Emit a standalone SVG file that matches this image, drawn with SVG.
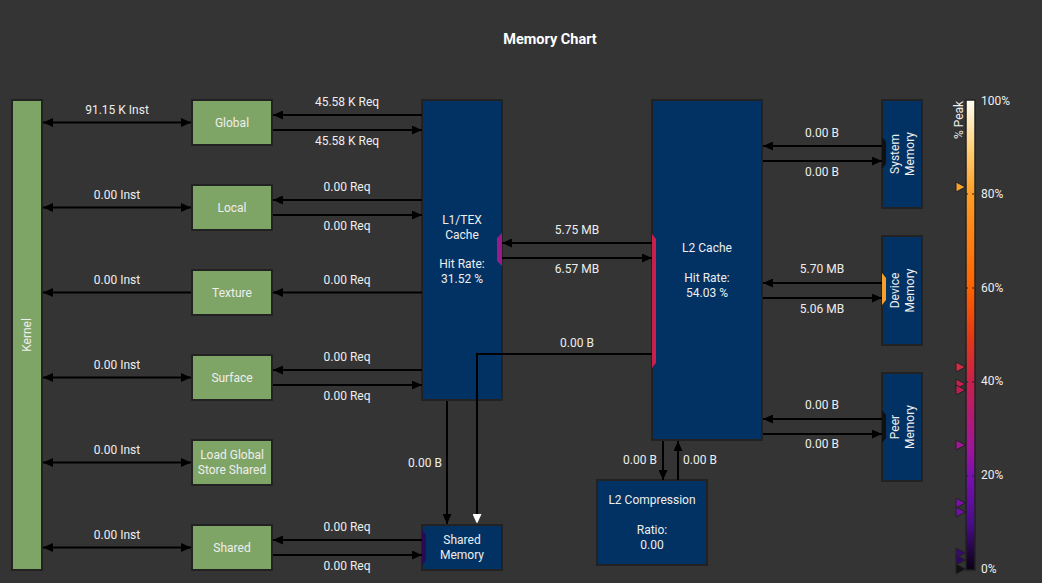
<svg xmlns="http://www.w3.org/2000/svg" width="1042" height="583" viewBox="0 0 1042 583">
<defs>
<style>
.bg{fill:#343434}
.t{font-family:Roboto,"Liberation Sans",sans-serif;font-size:12px;fill:#eeeeee;text-anchor:middle}
.title{font-family:Roboto,"Liberation Sans",sans-serif;font-size:14.5px;font-weight:bold;fill:#ffffff;text-anchor:middle}
.g{fill:#7fa566;stroke:#222;stroke-width:2}
.n{fill:#013263;stroke:#222;stroke-width:2}
.c{fill:none;stroke:#000;stroke-width:2}
.tri{stroke:#222;stroke-width:1}
</style>
<marker id="ah" viewBox="0 0 10 9" refX="10" refY="4.5" markerWidth="10" markerHeight="9" markerUnits="userSpaceOnUse" orient="auto-start-reverse"><path d="M0,0 L10,4.5 L0,9 z" fill="#000"/></marker>
<marker id="aw" viewBox="0 0 10 9" refX="10" refY="4.5" markerWidth="10" markerHeight="9" markerUnits="userSpaceOnUse" orient="auto"><path d="M0,0 L10,4.5 L0,9 z" fill="#fff"/></marker>
<linearGradient id="cb" x1="0" y1="0" x2="0" y2="1">
<stop offset="0" stop-color="#fffdf5"/>
<stop offset="0.1" stop-color="#ffd27a"/>
<stop offset="0.2" stop-color="#ff9d25"/>
<stop offset="0.4" stop-color="#ff6200"/>
<stop offset="0.5" stop-color="#e43a14"/>
<stop offset="0.6" stop-color="#c8204c"/>
<stop offset="0.74" stop-color="#a0149a"/>
<stop offset="0.8" stop-color="#7a10ad"/>
<stop offset="0.9" stop-color="#4a0c8a"/>
<stop offset="1" stop-color="#0a0012"/>
</linearGradient>
</defs>
<rect class="bg" x="0" y="0" width="1042" height="583"/>
<text class="title" x="550" y="44">Memory Chart</text>

<g id="kernel"><rect class="g" x="12" y="100" width="30" height="470"/><text class="t" transform="translate(27,335) rotate(-90)" y="4">Kernel</text></g>
<g id="global"><rect class="g" x="192" y="100" width="80" height="45"/><text class="t" x="232" y="127">Global</text></g>
<g id="local"><rect class="g" x="192" y="185" width="80" height="45"/><text class="t" x="232" y="212">Local</text></g>
<g id="texture"><rect class="g" x="192" y="270" width="80" height="45"/><text class="t" x="232" y="297">Texture</text></g>
<g id="surface"><rect class="g" x="192" y="355" width="80" height="45"/><text class="t" x="232" y="382">Surface</text></g>
<g id="loadglobal"><rect class="g" x="192" y="440" width="80" height="45"/><text class="t" x="232" y="459">Load Global</text><text class="t" x="232" y="474">Store Shared</text></g>
<g id="shared"><rect class="g" x="192" y="525" width="80" height="45"/><text class="t" x="232" y="552">Shared</text></g>

<g id="l1tex"><rect class="n" x="422" y="100" width="80" height="300"/><path d="M502,233 L497,238 L497,261 L502,266 Z" fill="#9a1a8c"/>
<text class="t" x="462" y="224">L1/TEX</text><text class="t" x="462" y="238.5">Cache</text><text class="t" x="462" y="268">Hit Rate:</text><text class="t" x="462" y="283">31.52 %</text></g>
<g id="sharedmem"><rect class="n" x="422" y="525" width="80" height="45"/><path d="M422,530 L426,535 L426,560 L422,565 Z" fill="#2a0a55"/><text class="t" x="462" y="544">Shared</text><text class="t" x="462" y="559">Memory</text></g>
<g id="l2cache"><rect class="n" x="652" y="100" width="110" height="340"/><path d="M652,234 L656,239 L656,363 L652,368 Z" fill="#c8204a"/>
<text class="t" x="707" y="252">L2 Cache</text><text class="t" x="707" y="282">Hit Rate:</text><text class="t" x="707" y="297">54.03 %</text></g>
<g id="l2comp"><rect class="n" x="597" y="480" width="110" height="85"/><text class="t" x="652" y="504">L2 Compression</text><text class="t" x="652" y="534">Ratio:</text><text class="t" x="652" y="549">0.00</text></g>
<g id="sysmem"><rect class="n" x="882" y="100" width="40" height="108"/><path d="M882,137 L886,142 L886,164 L882,169 Z" fill="#111"/><text class="t" transform="translate(902,154) rotate(-90)"><tspan x="0" y="-3">System</tspan><tspan x="0" y="12">Memory</tspan></text></g>
<g id="devmem"><rect class="n" x="882" y="236" width="40" height="109"/><path d="M882,273 L886,278 L886,300 L882,305 Z" fill="#f5a02a"/><text class="t" transform="translate(902,290.5) rotate(-90)"><tspan x="0" y="-3">Device</tspan><tspan x="0" y="12">Memory</tspan></text></g>
<g id="peermem"><rect class="n" x="882" y="373" width="40" height="108"/><path d="M882,410 L886,415 L886,438 L882,443 Z" fill="#111"/><text class="t" transform="translate(902,427) rotate(-90)"><tspan x="0" y="-3">Peer</tspan><tspan x="0" y="12">Memory</tspan></text></g>

<g id="connectors">
<path class="c" d="M43,122.5 H191" marker-start="url(#ah)" marker-end="url(#ah)"/>
<path class="c" d="M43,207.5 H191" marker-start="url(#ah)" marker-end="url(#ah)"/>
<path class="c" d="M43,292.5 H191" marker-start="url(#ah)"/>
<path class="c" d="M43,377.5 H191" marker-start="url(#ah)" marker-end="url(#ah)"/>
<path class="c" d="M43,462.5 H191" marker-start="url(#ah)" marker-end="url(#ah)"/>
<path class="c" d="M43,547.5 H191" marker-start="url(#ah)" marker-end="url(#ah)"/>
<path class="c" d="M422,115 H273" marker-end="url(#ah)"/>
<path class="c" d="M273,130 H422" marker-end="url(#ah)"/>
<path class="c" d="M422,200 H273" marker-end="url(#ah)"/>
<path class="c" d="M273,215 H422" marker-end="url(#ah)"/>
<path class="c" d="M422,292.5 H273" marker-end="url(#ah)"/>
<path class="c" d="M422,370 H273" marker-end="url(#ah)"/>
<path class="c" d="M273,385 H422" marker-end="url(#ah)"/>
<path class="c" d="M422,540 H273" marker-end="url(#ah)"/>
<path class="c" d="M273,555 H422" marker-end="url(#ah)"/>
<path class="c" d="M652,243 H502" marker-end="url(#ah)"/>
<path class="c" d="M502,258 H652" marker-end="url(#ah)"/>
<path class="c" d="M652,354 H477 V524" marker-end="url(#aw)"/>
<path class="c" d="M447,401 V524" marker-end="url(#ah)"/>
<path class="c" d="M882,146 H763" marker-end="url(#ah)"/>
<path class="c" d="M763,161 H882" marker-end="url(#ah)"/>
<path class="c" d="M882,283 H763" marker-end="url(#ah)"/>
<path class="c" d="M763,298 H882" marker-end="url(#ah)"/>
<path class="c" d="M882,419 H763" marker-end="url(#ah)"/>
<path class="c" d="M763,434 H882" marker-end="url(#ah)"/>
<path class="c" d="M663,441 V480" marker-end="url(#ah)"/>
<path class="c" d="M678,480 V441" marker-end="url(#ah)"/>
</g>

<g id="labels">
<text class="t" x="117" y="114">91.15 K Inst</text>
<text class="t" x="117" y="199">0.00 Inst</text>
<text class="t" x="117" y="284">0.00 Inst</text>
<text class="t" x="117" y="369">0.00 Inst</text>
<text class="t" x="117" y="454">0.00 Inst</text>
<text class="t" x="117" y="539">0.00 Inst</text>
<text class="t" x="347" y="106">45.58 K Req</text>
<text class="t" x="347" y="145">45.58 K Req</text>
<text class="t" x="347" y="191">0.00 Req</text>
<text class="t" x="347" y="230">0.00 Req</text>
<text class="t" x="347" y="284">0.00 Req</text>
<text class="t" x="347" y="361">0.00 Req</text>
<text class="t" x="347" y="400">0.00 Req</text>
<text class="t" x="347" y="531">0.00 Req</text>
<text class="t" x="347" y="570">0.00 Req</text>
<text class="t" x="577" y="234">5.75 MB</text>
<text class="t" x="577" y="273">6.57 MB</text>
<text class="t" x="577" y="347">0.00 B</text>
<text class="t" x="425" y="467">0.00 B</text>
<text class="t" x="640" y="464">0.00 B</text>
<text class="t" x="700" y="464">0.00 B</text>
<text class="t" x="822" y="137">0.00 B</text>
<text class="t" x="822" y="176">0.00 B</text>
<text class="t" x="822" y="273">5.70 MB</text>
<text class="t" x="822" y="313">5.06 MB</text>
<text class="t" x="822" y="409">0.00 B</text>
<text class="t" x="822" y="448">0.00 B</text>
</g>

<g id="colorbar">
<rect x="966" y="100" width="9" height="470" fill="url(#cb)" stroke="#222" stroke-width="1.5"/>
<g stroke="#222" stroke-width="1" stroke-dasharray="2,4">
<line x1="966" y1="194" x2="976" y2="194"/>
<line x1="966" y1="288" x2="976" y2="288"/>
<line x1="966" y1="382" x2="976" y2="382"/>
<line x1="966" y1="476" x2="976" y2="476"/>
</g>
<text class="t" transform="translate(958,120) rotate(-90)" y="5">% Peak</text>
<g class="t" style="text-anchor:start">
<text x="981" y="105">100%</text>
<text x="981" y="198">80%</text>
<text x="981" y="292">60%</text>
<text x="981" y="385">40%</text>
<text x="981" y="479">20%</text>
<text x="981" y="573">0%</text>
</g>
<path class="tri" d="M956,182 L965.5,187 L956,192 Z" fill="#f7a030"/>
<path class="tri" d="M956,362 L965.5,367 L956,372 Z" fill="#d22a40"/>
<path class="tri" d="M956,379 L965.5,384 L956,389 Z" fill="#c8204c"/>
<path class="tri" d="M956,385 L965.5,390 L956,395 Z" fill="#c01e52"/>
<path class="tri" d="M956,440 L965.5,445 L956,450 Z" fill="#a01894"/>
<path class="tri" d="M956,498 L965.5,503 L956,508 Z" fill="#7a10a8"/>
<path class="tri" d="M956,507 L965.5,512 L956,517 Z" fill="#7010a4"/>
<path class="tri" d="M956,548 L965.5,553 L956,558 Z" fill="#3a0a70"/>
<path class="tri" d="M956,555 L965.5,560 L956,565 Z" fill="#2e0862"/>
<path class="tri" d="M956,564 L965.5,569 L956,574 Z" fill="#111"/>
</g>
</svg>
